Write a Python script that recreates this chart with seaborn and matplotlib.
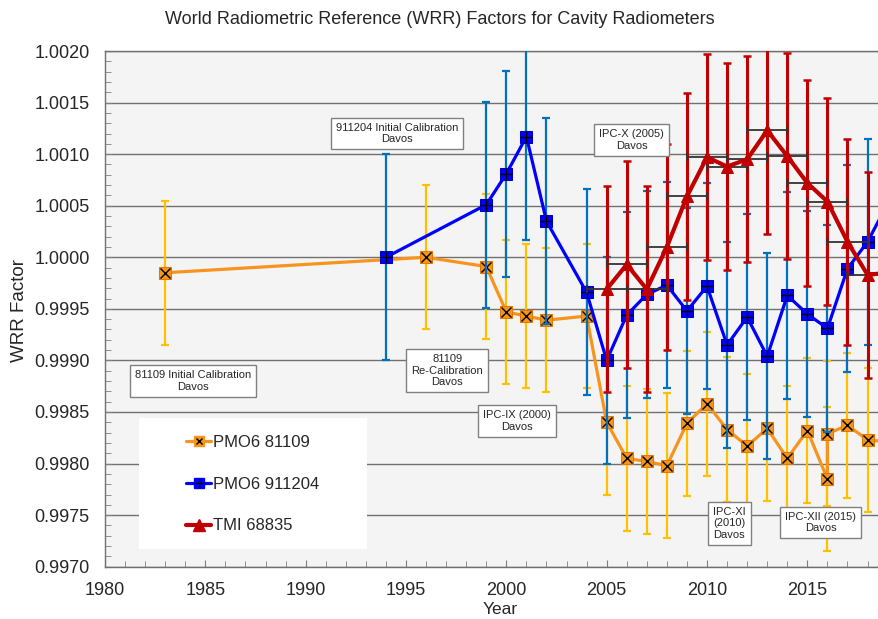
import numpy as np
import pandas as pd
import matplotlib
matplotlib.use('Agg')
import matplotlib.pyplot as plt
import matplotlib.ticker as mticker
from matplotlib.lines import Line2D
from matplotlib.patches import Rectangle
import seaborn as sns

# PMO6 81109
years_81109 = [1983, 1996, 1999, 2000, 2001, 2002, 2004, 2005, 2006, 2007, 2008, 2009,
               2010, 2011, 2012, 2013, 2014, 2015, 2016, 2016, 2017, 2018, 2019]
wrr_81109 = [0.99985, 1.00000, 0.99991, 0.99947, 0.99943, 0.99939, 0.99943, 0.99840,
             0.99805, 0.99802, 0.99798, 0.99839, 0.99858, 0.99833, 0.99817, 0.99834,
             0.99805, 0.99832, 0.99785, 0.99829, 0.99837, 0.99823, 0.99821]
err_81109 = 0.0007

# PMO6 911204
years_911204 = [1994, 1999, 2000, 2001, 2002, 2004, 2005, 2006, 2007, 2008, 2009, 2010,
                2011, 2012, 2013, 2014, 2015, 2016, 2017, 2018, 2019]
wrr_911204 = [1.00000, 1.00051, 1.00081, 1.00117, 1.00035, 0.99966, 0.99900, 0.99944,
              0.99964, 0.99973, 0.99948, 0.99972, 0.99915, 0.99942, 0.99904, 0.99963,
              0.99945, 0.99931, 0.99989, 1.00015, 1.00052]
err_911204 = 0.001

# TMI 68835
years_68835 = [2005, 2006, 2007, 2008, 2009, 2010, 2011, 2012, 2013, 2014, 2015, 2016,
               2017, 2018, 2019]
wrr_68835 = [0.99969, 0.99993, 0.99969, 1.00010, 1.00059, 1.00097, 1.00088, 1.00095,
             1.00123, 1.00098, 1.00072, 1.00054, 1.00015, 0.99983, 0.99985]
err_68835 = 0.001
xerr_68835 = 1

notes = ['81109 Initial Calibration\nDavos', '911204 Initial Calibration\nDavos',
         '81109\nRe-Calibration\nDavos', 'IPC-IX (2000)\nDavos', 'IPC-X (2005)\nDavos',
         'IPC-XI\n(2010)\nDavos', 'IPC-XII (2015)\nDavos']
note_x = [1984.4, 1994.55, 1997.06, 2000.52, 2006.24, 2011.11, 2015.67]
note_y = [0.99880, 1.00120, 0.99890, 0.99841, 1.00114, 0.99742, 0.99743]

df1 = pd.DataFrame({'year': years_81109, 'wrr': wrr_81109})
df2 = pd.DataFrame({'year': years_911204, 'wrr': wrr_911204})
df3 = pd.DataFrame({'year': years_68835, 'wrr': wrr_68835})

sns.set_style('ticks')
plt.rcParams['font.family'] = ['Liberation Sans', 'DejaVu Sans']

orange = '#F7941D'
gold = '#FFC000'
blue = '#0000FF'
blue_err = '#0070C0'
red = '#C00000'

fig = plt.figure(figsize=(8.79, 6.19), dpi=100)
ax = fig.add_axes([105/879, 52.3/619, 774/879, 515.7/619])
ax.set_facecolor('#F4F4F4')

# PMO6 81109
ax.errorbar(df1['year'], df1['wrr'], yerr=err_81109, fmt='none', ecolor=gold,
            elinewidth=1.6, capsize=3, capthick=1.6, zorder=2)
sns.lineplot(data=df1, x='year', y='wrr', sort=False, estimator=None, color=orange,
             lw=2.3, marker='s', ms=8, mfc=orange, mec='#E07800', ax=ax, zorder=3)
ax.plot(df1['year'], df1['wrr'], ls='none', marker='x', color='black', ms=6.5, mew=1, zorder=3.1)

# PMO6 911204
ax.errorbar(df2['year'], df2['wrr'], yerr=err_911204, fmt='none', ecolor=blue_err,
            elinewidth=1.6, capsize=3, capthick=1.6, zorder=4)
sns.lineplot(data=df2, x='year', y='wrr', sort=False, estimator=None, color=blue,
             lw=2.3, marker='s', ms=8, mfc=blue, mec='#0000C0', ax=ax, zorder=5)
ax.plot(df2['year'], df2['wrr'], ls='none', marker='+', color='black', ms=8, mew=1, zorder=5.1)

# TMI 68835
ax.errorbar(df3['year'], df3['wrr'], yerr=err_68835, fmt='none', ecolor=red,
            elinewidth=2.2, capsize=3, capthick=1.8, zorder=6)
ax.errorbar(df3['year'], df3['wrr'], xerr=xerr_68835, fmt='none', ecolor='#333333',
            elinewidth=1.3, capsize=3, capthick=1.3, zorder=6.5)
sns.lineplot(data=df3, x='year', y='wrr', sort=False, estimator=None, color=red,
             lw=3, marker='^', ms=9, mfc=red, mec=red, ax=ax, zorder=7)

ax.set_xlim(1980, 2018.57)
ax.set_ylim(0.9970, 1.0020)
ax.xaxis.set_major_locator(mticker.MultipleLocator(5))
ax.xaxis.set_minor_locator(mticker.MultipleLocator(1))
ax.yaxis.set_major_locator(mticker.MultipleLocator(0.0005))
ax.yaxis.set_minor_locator(mticker.MultipleLocator(0.0001))
ax.yaxis.set_major_formatter(mticker.FormatStrFormatter('%.4f'))
ax.tick_params(which='both', direction='in', color='#808080', labelsize=13, pad=11)
ax.tick_params(which='major', length=5)
ax.tick_params(which='minor', length=4)
ax.grid(axis='y', which='major', color='#707070', lw=1)
ax.set_axisbelow(True)
ax.set_xlabel('')
ax.set_ylabel('')
for s in ['left', 'bottom', 'top']:
    ax.spines[s].set_color('#707070')
    ax.spines[s].set_linewidth(1)
ax.spines['right'].set_visible(False)

for t, x, y in zip(notes, note_x, note_y):
    ax.text(x, y, t, ha='center', va='center', fontsize=8, zorder=10,
            bbox=dict(boxstyle='square,pad=0.45', fc='white', ec='#808080', lw=1))

# legend
ax.add_patch(Rectangle((0.0443, 0.0337), 0.294, 0.254, transform=ax.transAxes,
                       fc='white', ec='none', zorder=1))
handles = [
    (Line2D([], [], color=orange, lw=2.3, marker='s', ms=7, mfc=orange, mec=orange),
     Line2D([], [], ls='none', marker='x', color='black', ms=5, mew=1)),
    (Line2D([], [], color=blue, lw=2.3, marker='s', ms=7, mfc=blue, mec=blue),
     Line2D([], [], ls='none', marker='+', color='black', ms=7, mew=1)),
    Line2D([], [], color=red, lw=3, marker='^', ms=8, mfc=red, mec=red),
]
ax.legend(handles, ['PMO6 81109', 'PMO6 911204', 'TMI 68835'], loc='center',
          bbox_to_anchor=(0.191, 0.160), frameon=False, fontsize=12,
          handlelength=1.5, handletextpad=0.1, labelspacing=1.6)

fig.text(0.5, 1 - 20/619, 'World Radiometric Reference (WRR) Factors for Cavity Radiometers',
         ha='center', va='center', fontsize=13)
fig.text(20/879, 1 - 310/619, 'WRR Factor', rotation=90, ha='center', va='center', fontsize=13.5)
fig.text(500/879, 1 - 609/619, 'Year', ha='center', va='center', fontsize=12.5)

fig.savefig('out.png', dpi=100)
